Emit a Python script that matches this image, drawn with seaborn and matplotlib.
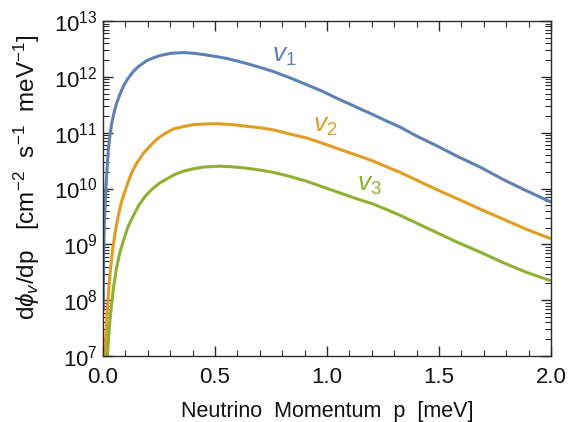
import numpy as np
import pandas as pd
import matplotlib
matplotlib.use("Agg")
import matplotlib.pyplot as plt
import seaborn as sns
from matplotlib.ticker import LogLocator, MultipleLocator, FixedLocator, NullFormatter

# ---- data (momentum p in meV, log10 of dPhi/dp) ----
p_nu1 = [0.001, 0.003, 0.006, 0.0134, 0.018, 0.024, 0.031, 0.039, 0.05, 0.061, 0.075, 0.091,
         0.105, 0.117, 0.135, 0.16, 0.195, 0.225, 0.254, 0.30, 0.358, 0.41, 0.463, 0.51, 0.552,
         0.612, 0.649, 0.70, 0.76, 0.83, 0.909, 0.98, 1.058, 1.13, 1.207, 1.265, 1.326, 1.40,
         1.49, 1.58, 1.69, 1.787, 1.89, 2.00]
log_nu1 = [7.8, 8.8, 9.4, 10.04, 10.35, 10.70, 10.95, 11.17, 11.37, 11.53, 11.68, 11.83,
           11.93, 12.00, 12.095, 12.19, 12.29, 12.34, 12.38, 12.42, 12.435, 12.42, 12.39, 12.36,
           12.33, 12.27, 12.23, 12.17, 12.095, 11.99, 11.86, 11.74, 11.59, 11.46, 11.32, 11.21,
           11.10, 10.94, 10.765, 10.58, 10.37, 10.16, 9.96, 9.756]

p_nu2 = [0.008, 0.013, 0.018, 0.024, 0.031, 0.043, 0.054, 0.068, 0.083, 0.103, 0.12, 0.135,
         0.15, 0.18, 0.217, 0.24, 0.27, 0.314, 0.36, 0.403, 0.45, 0.508, 0.56, 0.612, 0.649,
         0.70, 0.76, 0.83, 0.909, 0.98, 1.058, 1.13, 1.207, 1.265, 1.326, 1.40, 1.49, 1.58,
         1.69, 1.787, 1.89, 2.00]
log_nu2 = [6.95, 7.3, 7.75, 8.1, 8.45, 8.91, 9.2, 9.51, 9.77, 10.01, 10.2, 10.34,
           10.45, 10.63, 10.79, 10.88, 10.97, 11.066, 11.11, 11.143, 11.155, 11.16, 11.15,
           11.13, 11.11, 11.09, 11.05, 10.98, 10.905, 10.81, 10.70, 10.60, 10.49, 10.39,
           10.29, 10.15, 9.98, 9.82, 9.62, 9.45, 9.27, 9.10]

p_nu3 = [0.018, 0.022, 0.028, 0.035, 0.046, 0.06, 0.075, 0.09, 0.11, 0.135, 0.16, 0.19, 0.225,
         0.254, 0.284, 0.32, 0.358, 0.40, 0.45, 0.522, 0.57, 0.612, 0.649, 0.70, 0.76, 0.83,
         0.909, 0.98, 1.058, 1.13, 1.207, 1.265, 1.326, 1.40, 1.49, 1.58, 1.69, 1.787, 1.89,
         2.00]
log_nu3 = [6.95, 7.15, 7.5, 7.8, 8.2, 8.57, 8.85, 9.05, 9.3, 9.51, 9.7, 9.87, 10.01,
           10.1, 10.17, 10.25, 10.31, 10.35, 10.385, 10.40, 10.39, 10.375, 10.36, 10.33, 10.29,
           10.22, 10.13, 10.03, 9.92, 9.82, 9.72, 9.625, 9.52, 9.38, 9.21, 9.04, 8.85, 8.67,
           8.50, 8.345]

series_names = ["nu1", "nu2", "nu3"]
series_labels = [r"$v_1$", r"$v_2$", r"$v_3$"]
label_p = [0.81, 0.99, 1.19]
label_f = [2.35e12, 1.3e11, 1.15e10]

x_ticks = [0.0, 0.5, 1.0, 1.5, 2.0]
x_ticklabels = ["0.0", "0.5", "1.0", "1.5", "2.0"]
y_ticks = [1e7, 1e8, 1e9, 1e10, 1e11, 1e12, 1e13]
y_ticklabels = [r"$10^{7}$", r"$10^{8}$", r"$10^{9}$", r"$10^{10}$", r"$10^{11}$",
                r"$10^{12}$", r"$10^{13}$"]

colors = ["#5E81B5", "#E19C24", "#8FB032"]

df = pd.concat([
    pd.DataFrame({"p": p_nu1, "flux": np.power(10.0, log_nu1), "series": "nu1"}),
    pd.DataFrame({"p": p_nu2, "flux": np.power(10.0, log_nu2), "series": "nu2"}),
    pd.DataFrame({"p": p_nu3, "flux": np.power(10.0, log_nu3), "series": "nu3"}),
], ignore_index=True)

sns.set_style("ticks")
plt.rcParams["font.family"] = ["Liberation Sans", "DejaVu Sans"]
plt.rcParams["mathtext.fontset"] = "custom"
plt.rcParams["mathtext.rm"] = "Liberation Sans"
plt.rcParams["mathtext.it"] = "Liberation Sans:italic"
plt.rcParams["mathtext.bf"] = "Liberation Sans:bold"

fig = plt.figure(figsize=(5.74, 4.22), dpi=100)
ax = fig.add_axes([103 / 574, 1 - 356 / 422, 448 / 574, 335 / 422])

sns.lineplot(data=df, x="p", y="flux", hue="series", hue_order=series_names,
             palette=colors, linewidth=2.2, legend=False, ax=ax, sort=False,
             estimator=None)
for ln in ax.get_lines():
    ln.set_solid_joinstyle("round")
    ln.set_solid_capstyle("butt")

ax.set_yscale("log")
ax.set_xlim(0, 2.0)
ax.set_ylim(1e7, 1e13)

ax.xaxis.set_major_locator(FixedLocator(x_ticks))
ax.set_xticklabels(x_ticklabels)
ax.xaxis.set_minor_locator(MultipleLocator(0.1))
ax.yaxis.set_major_locator(FixedLocator(y_ticks))
ax.set_yticklabels(y_ticklabels)
ax.yaxis.set_minor_locator(LogLocator(base=10, subs=np.arange(2, 10)))
ax.yaxis.set_minor_formatter(NullFormatter())

frame_col = "#2a2a2a"
for s in ax.spines.values():
    s.set_color(frame_col)
    s.set_linewidth(1.0)
    s.set_visible(True)

ax.tick_params(which="both", direction="in", top=True, right=True, colors=frame_col,
               labelcolor="#111111")
ax.tick_params(which="major", length=7, width=1.0, labelsize=16)
ax.tick_params(axis="x", which="major", pad=8)
ax.tick_params(axis="y", which="major", pad=4)
ax.tick_params(which="minor", length=4, width=0.8)

ax.set_xlabel("Neutrino  Momentum  p  [meV]", fontsize=15.5, color="#111111", labelpad=9)
ax.set_ylabel(r"d$\phi_v$/dp   [cm$^{-2}$  s$^{-1}$  meV$^{-1}$]", fontsize=17.5,
              color="#111111")
ax.yaxis.set_label_coords(-0.137, 0.533)

for lab, xp, yf, c in zip(series_labels, label_p, label_f, colors):
    ax.text(xp, yf, lab, color=c, fontsize=19, ha="center", va="center")

fig.savefig("out.png", dpi=100)
